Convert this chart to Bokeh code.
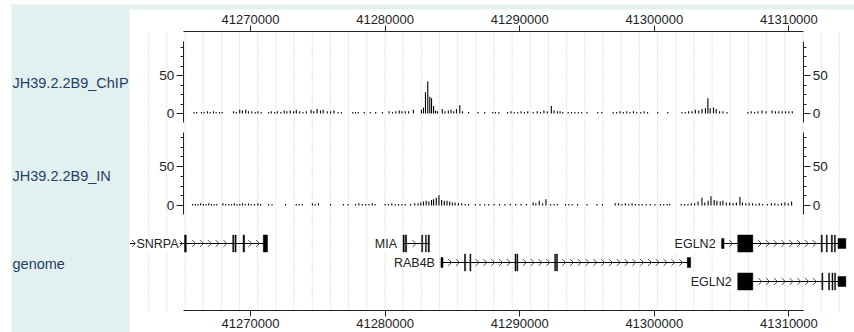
import numpy as np
from bokeh.plotting import figure
from bokeh.models import (Range1d, LinearAxis, FixedTicker, ColumnDataSource,
                          BasicTickFormatter)
from bokeh.embed import file_html
from bokeh.resources import INLINE
from bokeh.core.properties import value

# ---------------- data ----------------
x_ticks = [41270000, 41280000, 41290000, 41300000, 41310000]
y_ticks = [0, 50]
y_minor = [12.5, 25, 37.5, 62.5, 75, 87.5]
track_names = ["JH39.2.2B9_ChIP", "JH39.2.2B9_IN", "genome"]

chip_pos = [
    41265800, 41266000, 41266350, 41266550, 41266800, 41267000, 41267250, 41267450, 41267700, 41267900,
    41268750, 41268950, 41269200, 41269400, 41269650, 41269850, 41270100, 41270350, 41270550, 41270800,
    41271350, 41271550, 41271800, 41272000, 41272250, 41272500, 41272700, 41272950, 41273200, 41273400,
    41273650, 41273900, 41274150,
    41274500, 41274700, 41274950, 41275200, 41275400, 41275700, 41275950, 41276200, 41276500, 41276750,
    41277600, 41277800, 41278000, 41278450, 41278900, 41279300, 41279800, 41280300, 41280550, 41280800,
    41281050, 41281250, 41281500, 41281750, 41282100,
    41282700, 41282850, 41283000, 41283170, 41283320, 41283450, 41283600, 41283750, 41283900,
    41284250, 41284450, 41284700, 41284900, 41285100, 41285300, 41285550, 41285750,
    41286200, 41286900, 41287400, 41288000,
    41288200, 41288450,
    41289100, 41289350, 41289600, 41289850, 41290100, 41290350, 41290600,
    41291000, 41291300, 41291550, 41291800, 41292050, 41292350, 41292550, 41292800, 41293000, 41293200,
    41293600, 41293850, 41294100, 41294350, 41294600,
    41295000, 41295800, 41296100,
    41296950, 41297200, 41297450, 41297700, 41297950, 41298200, 41298450, 41298700, 41299000, 41299250,
    41299500,
    41300250, 41301000,
    41302050, 41302300, 41302550, 41302800, 41303050, 41303300, 41303550, 41303800, 41303980, 41304150,
    41304400, 41304600, 41304850, 41305100, 41305400,
    41306950, 41307200, 41307450, 41307700, 41308000, 41308300,
    41308750, 41309000, 41309250, 41309500, 41309750, 41310000, 41310250]
chip_val = [
    2, 2, 2, 2, 3, 2, 3, 2, 2, 2,
    3, 2, 5, 4, 5, 3, 3, 2, 3, 2,
    2, 3, 2, 3, 2, 4, 3, 4, 3, 5, 3, 2, 3,
    5, 3, 6, 4, 5, 3, 3, 4, 2, 2,
    2, 2, 2, 2, 2, 2, 2, 3, 2, 3, 4, 3, 3, 3, 5,
    5, 8, 28, 42, 22, 20, 10, 4, 3,
    6, 3, 4, 5, 3, 6, 11, 3,
    2, 2, 2, 2,
    2, 2,
    2, 3, 2, 2, 3, 2, 3,
    2, 3, 2, 4, 3, 10, 4, 3, 3, 2,
    2, 2, 2, 2, 2,
    2, 2, 2,
    2, 2, 3, 2, 3, 2, 3, 2, 2, 3, 2,
    2, 2,
    2, 2, 3, 3, 5, 4, 6, 7, 20, 7, 8, 6, 3, 3, 2,
    2, 3, 2, 3, 4, 3,
    4, 3, 3, 3, 3, 3, 3]

in_pos = [
    41265700, 41265900, 41266100, 41266300, 41266500, 41266700, 41266900, 41267100, 41267300, 41267500,
    41267950, 41268150, 41268400, 41268600, 41268800, 41269000, 41269200, 41269400, 41269600,
    41269850, 41270050, 41270300, 41270550, 41270750,
    41271350, 41271600, 41272600, 41273400, 41273600, 41273850,
    41274600, 41274800, 41275050, 41275950, 41276900, 41277250,
    41277800, 41278050, 41278300, 41278550, 41278800, 41279050, 41279250,
    41280000, 41280250, 41280500, 41280750, 41281000, 41281250, 41281500, 41281900, 41282200,
    41282450, 41282650, 41282850, 41283050, 41283250, 41283450, 41283600, 41283800, 41284000, 41284200,
    41284400, 41284600, 41284800, 41285000, 41285200, 41285450, 41285700, 41285950, 41286200,
    41286700, 41287050, 41287400, 41287700, 41288100, 41288500, 41288900, 41289300, 41289700, 41290100,
    41290500,
    41291000, 41291200, 41291450, 41291700, 41291950,
    41292300, 41292550, 41292800, 41293400, 41293650, 41293900, 41294300,
    41295000, 41295750, 41296150,
    41297100, 41297350, 41297600, 41297850, 41298100, 41298350, 41298600, 41298850, 41299100, 41299400,
    41299700, 41300050, 41300450, 41300700, 41300950, 41301150,
    41302000, 41302250, 41302500, 41302750, 41303000, 41303250, 41303540, 41303750, 41304000, 41304210,
    41304450, 41304650, 41304900, 41305100, 41305350, 41305600, 41305850, 41306100, 41306360, 41306550,
    41306800, 41307050, 41307300, 41307550, 41307800, 41308050, 41308400, 41308700, 41308950, 41309200,
    41309450, 41309700, 41309950, 41310200]
in_val = [
    2, 2, 2, 3, 2, 2, 3, 2, 2, 2,
    3, 2, 2, 2, 3, 2, 2, 3, 2,
    3, 2, 2, 3, 2,
    2, 2, 2, 2, 2, 2,
    3, 2, 3, 2, 2, 2,
    2, 3, 2, 2, 2, 3, 2,
    2, 2, 3, 2, 2, 2, 2, 2, 3,
    3, 4, 5, 6, 5, 7, 8, 10, 13, 7, 6, 6, 5, 4, 4, 3, 3, 2, 2,
    2, 2, 2, 2, 2, 2, 2, 2, 2, 2, 2,
    4, 3, 6, 3, 8,
    2, 2, 2, 2, 2, 2, 2,
    2, 2, 2,
    3, 3, 2, 3, 2, 3, 2, 2, 2, 2,
    2, 2, 2, 2, 2, 2,
    2, 2, 2, 3, 3, 5, 10, 4, 6, 12, 7, 6, 5, 6, 4, 4, 3, 4, 11, 4,
    3, 3, 3, 2, 3, 2, 2, 3, 3, 2, 3, 4, 3, 5]

gene_names = ["SNRPA", "MIA", "RAB4B", "EGLN2", "EGLN2"]
gene_row = [1, 1, 2, 1, 3]
gene_start = [41261050, 41281330, 41284150, 41305000, 41306200]
gene_end = [41271260, 41283290, 41302700, 41314230, 41314230]
gene_label_at = [41265100, 41281330, 41284150, 41305000, 41306200]

exon_gene = [0, 0, 0, 0, 0,
             1, 1, 1, 1, 1,
             2, 2, 2, 2, 2, 2, 2, 2,
             3, 3, 3, 3, 3, 3, 3,
             4, 4, 4, 4, 4, 4]
exon_start = [41265100, 41268680, 41268850, 41269450, 41270950,
              41281330, 41281500, 41282720, 41283000, 41283200,
              41284150, 41285900, 41286300, 41289650, 41289790, 41292600, 41292740, 41302450,
              41305000, 41306200, 41312400, 41312780, 41313150, 41313380, 41313650,
              41306200, 41312450, 41312950, 41313200, 41313400, 41313650]
exon_end = [41265230, 41268760, 41268930, 41269560, 41271260,
            41281420, 41281600, 41282790, 41283060, 41283290,
            41284300, 41285980, 41286370, 41289720, 41289860, 41292670, 41292810, 41302700,
            41305180, 41307320, 41312480, 41312850, 41313230, 41313450, 41314230,
            41307320, 41312520, 41313020, 41313270, 41313460, 41314230]
exon_kind = ["cds"] * 5 + ["cds"] * 5 + \
            ["utr", "cds", "cds", "cds", "cds", "cds", "cds", "utr"] + \
            ["utr", "cds", "cds", "cds", "cds", "cds", "utr"] + \
            ["cds", "cds", "cds", "cds", "cds", "utr"]

# ---------------- layout (pixels of the picture) ----------------
W, H = 854, 332
PANEL_L, PANEL_T = 11, 4         # teal background starts here
WHITE_L, WHITE_T = 129, 9        # white plotting area starts here
TICK_PX = 250.0                  # x pixel of first x tick
PX_PER_BP = 134.6 / 10000.0
FONT_NAME = "Liberation Sans"
FONT = value(FONT_NAME)
TEAL = "#e3f0f0"
INK = "#222222"


def bp(px):
    return x_ticks[0] + (px - TICK_PX) / PX_PER_BP


def my(px):
    return H - px


p = figure(width=W, height=H,
           x_range=Range1d(bp(0), bp(W)), y_range=Range1d(0, H),
           output_backend="svg", toolbar_location=None,
           x_axis_location=None, y_axis_location=None,
           min_border_left=0, min_border_right=0, min_border_top=0, min_border_bottom=0,
           border_fill_color="white", background_fill_color="white",
           outline_line_color=None)
p.grid.visible = False

# teal title panel and top strip
p.quad(left=[bp(PANEL_L), bp(WHITE_L)], right=[bp(WHITE_L), bp(W)],
       top=[my(PANEL_T), my(PANEL_T)], bottom=[my(H), my(WHITE_T)],
       fill_color=TEAL, line_color=None)


def track_range(zero_px, px_per_unit):
    z = my(zero_px)
    return Range1d(-z / px_per_unit, (H - z) / px_per_unit)


tracks = [
    dict(name="chip", zero=113, ppu=0.76, top=41, bot=122, pos=chip_pos, val=chip_val),
    dict(name="inp", zero=205, ppu=0.78, top=132, bot=214, pos=in_pos, val=in_val),
]
p.extra_y_ranges = {t["name"]: track_range(t["zero"], t["ppu"]) for t in tracks}

# vertical dotted grid
gx = [bp(130 + k * (857 - 130) / 40.0) for k in range(1, 40)]
p.segment(x0=gx, x1=gx, y0=my(310), y1=my(32), line_color="#c4c4c4",
          line_dash="1 2", line_width=1)

X_BOUNDS = (41265000, 41311100)

# x axes (top and bottom)
for side, ypx in (("above", 31), ("below", 310)):
    ax = LinearAxis(fixed_location=my(ypx), bounds=X_BOUNDS,
                    ticker=FixedTicker(ticks=x_ticks),
                    formatter=BasicTickFormatter(use_scientific=False),
                    major_tick_out=6, major_tick_in=0, minor_tick_out=0, minor_tick_in=0,
                    major_label_standoff=2,
                    axis_line_color=INK, major_tick_line_color=INK,
                    major_label_text_font=FONT_NAME, major_label_text_font_size="13px",
                    major_label_text_color=INK)
    p.add_layout(ax, side)

# data tracks
for t in tracks:
    src = ColumnDataSource(dict(x=t["pos"], v=t["val"]))
    p.segment(x0="x", x1="x", y0=0, y1="v", source=src, y_range_name=t["name"],
              line_color="black", line_width=1.1)
    top_v = (t["zero"] - t["top"]) / t["ppu"]
    bot_v = (t["zero"] - t["bot"]) / t["ppu"]
    for side, xloc in (("left", X_BOUNDS[0]), ("right", X_BOUNDS[1])):
        ay = LinearAxis(y_range_name=t["name"], fixed_location=xloc, bounds=(bot_v, top_v),
                        ticker=FixedTicker(ticks=y_ticks, minor_ticks=y_minor),
                        major_tick_out=7, major_tick_in=0, minor_tick_out=3, minor_tick_in=0,
                        major_label_standoff=2,
                        axis_line_color=INK, major_tick_line_color=INK, minor_tick_line_color=INK,
                        major_label_text_font=FONT_NAME, major_label_text_font_size="13.5px",
                        major_label_text_color=INK)
        p.add_layout(ay, side)

# genome track
row_px = {1: 243, 2: 262, 3: 281}
row_y = [my(row_px[r]) for r in gene_row]
p.segment(x0=gene_start, x1=gene_end, y0=row_y, y1=row_y, line_color="black", line_width=1)

half_h = {"cds": 8.5, "utr": 5.0}
ex_y = [row_y[g] for g in exon_gene]
p.quad(left=exon_start, right=exon_end,
       top=[y + half_h[k] for y, k in zip(ex_y, exon_kind)],
       bottom=[y - half_h[k] for y, k in zip(ex_y, exon_kind)],
       fill_color="black", line_color="black", line_width=0.5)

# chevrons along introns
step = 7.8 / PX_PER_BP
cw, ch = 3.4 / PX_PER_BP, 3.4
cx0, cx1, cy0, cy1 = [], [], [], []
for gi in range(len(gene_names)):
    ex = sorted([(s, e) for g, s, e in zip(exon_gene, exon_start, exon_end) if g == gi])
    bounds_list = [gene_start[gi]] + [v for se in ex for v in se] + [gene_end[gi]]
    gaps = [(bounds_list[i], bounds_list[i + 1]) for i in range(0, len(bounds_list), 2)]
    for a, b in gaps:
        a2, b2 = a + 5.5 / PX_PER_BP, b - 2.0 / PX_PER_BP
        if b2 <= a2:
            continue
        n = int((b2 - a2) // step) + 1
        off = a2 + ((b2 - a2) - (n - 1) * step) / 2.0
        y = row_y[gi]
        for k in range(n):
            tip = off + k * step
            cx0 += [tip - cw, tip - cw]
            cx1 += [tip, tip]
            cy0 += [y + ch, y - ch]
            cy1 += [y, y]
p.segment(x0=cx0, x1=cx1, y0=cy0, y1=cy1, line_color="#333333", line_width=0.9)

label_x = [x - 5.0 / PX_PER_BP for x in gene_label_at]
p.text(x=label_x, y=row_y, text=gene_names, text_align="right", text_baseline="middle",
       text_font=FONT, text_font_size="12.5px", text_color=INK,
       background_fill_color="white", padding=1)

# track titles in the left panel
title_y = [82, 175, 263]
p.text(x=[bp(12)] * 3, y=[my(v) for v in title_y], text=track_names,
       text_align="left", text_baseline="middle", text_font=FONT,
       text_font_size="14.5px", text_color="#1f3f66")

open("out.html", "w").write(file_html(p, INLINE))
